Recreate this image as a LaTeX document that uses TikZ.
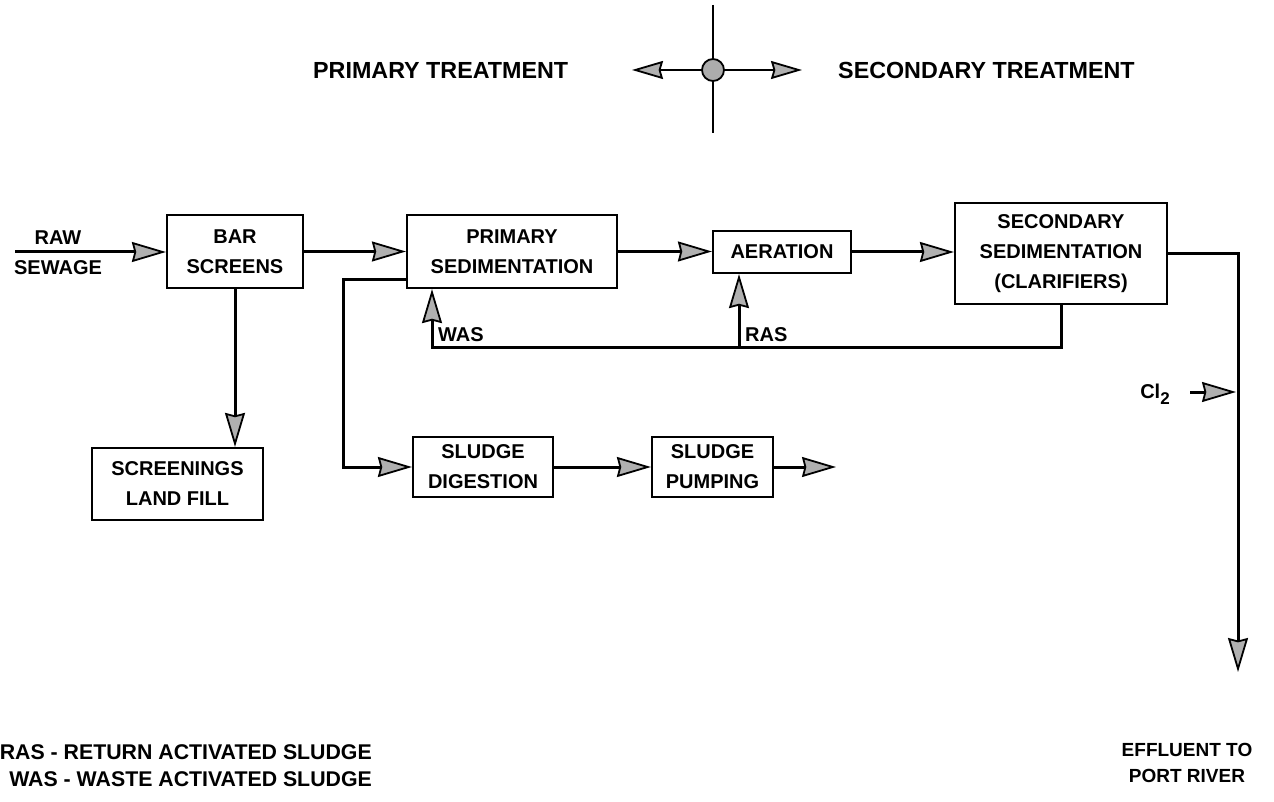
\documentclass[tikz,border=0pt]{standalone}
\usepackage{fontspec}
\setmainfont{Liberation Sans}
\usetikzlibrary{arrows.meta}
\newcommand\boxfont{\fontsize{20}{30}\selectfont\bfseries}
\newcommand\titlefont{\fontsize{23.3}{27}\selectfont\bfseries}
\newcommand\notefont{\fontsize{21.3}{27}\selectfont\bfseries}
\newcommand\outletfont{\fontsize{19}{26}\selectfont\bfseries}
\begin{document}
\begin{tikzpicture}[x=1pt,y=-1pt,
  box/.style={draw, line width=2.2pt, align=center, inner sep=0pt, font=\boxfont},
  lbl/.style={inner sep=0pt, font=\boxfont},
  flow/.style={line width=3pt,
    -{Stealth[length=34pt,width=20pt,inset=2.5pt,line width=1.8pt,fill=gray!62]}},
  pointer/.style={line width=2.4pt,
    -{Stealth[length=31pt,width=18pt,inset=2.5pt,line width=1.8pt,fill=gray!62]}},
]
\useasboundingbox (0,0) rectangle (1274,802);

% headings and the primary/secondary divider
\node[inner sep=0pt, anchor=west, font=\titlefont] (pt) at (313,70) {PRIMARY TREATMENT};
\node[inner sep=0pt, anchor=west, font=\titlefont] (st) at (838,70) {SECONDARY TREATMENT};
\coordinate (hub) at (713,70);
\coordinate (vtop) at (713,5);
\coordinate (vbot) at (713,133);
\coordinate (ltip) at (632,70);
\coordinate (rtip) at (802,70);
\draw[line width=2.2pt] (vtop) -- (vbot);
\draw[pointer] (hub) -- (ltip);
\draw[pointer] (hub) -- (rtip);
\node[circle, draw, line width=1.8pt, fill=gray!65, minimum size=22pt, inner sep=0pt] (dot) at (hub) {};

% process units
\node[box, minimum width=136pt, minimum height=73pt] (bar) at (235,251.5) {BAR\\SCREENS};
\node[box, minimum width=210pt, minimum height=73pt] (prim) at (512,251.5) {PRIMARY\\SEDIMENTATION};
\node[box, minimum width=138pt, minimum height=42pt] (aer) at (782,252) {AERATION};
\node[box, minimum width=212pt, minimum height=101pt] (sec) at (1061,253.5) {SECONDARY\\SEDIMENTATION\\(CLARIFIERS)};
\node[box, minimum width=171pt, minimum height=72pt] (scr) at (177.5,484) {SCREENINGS\\LAND FILL};
\node[box, minimum width=140pt, minimum height=60pt] (dig) at (483,467) {SLUDGE\\DIGESTION};
\node[box, minimum width=121pt, minimum height=60pt] (pump) at (712.5,467) {SLUDGE\\PUMPING};

% inflow
\node[inner sep=0pt, align=center, font=\boxfont] (raw) at (58,253) {RAW\\SEWAGE};
\coordinate (rawin) at (15,252);
\draw[flow] (rawin) -- (rawin -| bar.west);

% main line
\draw[flow] (bar.east) -- (prim.west);
\draw[flow] (prim.east) -- (prim.east -| aer.west);
\draw[flow] (aer.east) -- (aer.east -| sec.west);

% screenings
\draw[flow] (bar.south) -- (bar.south |- scr.north);

% return and waste activated sludge
\coordinate (rl) at (432,347);
\coordinate (rasj) at (739,347);
\draw[flow] (sec.south) |- (rl) -- (rl |- prim.south);
\draw[flow] (rasj) -- (rasj |- aer.south);
\node[lbl, anchor=west] (was) at (438,335) {WAS};
\node[lbl, anchor=west] (ras) at (745,335) {RAS};

% sludge line
\coordinate (sl) at (343,280);
\coordinate (sout) at (836,467);
\draw[flow] (prim.west |- sl) -- (sl) |- (dig.west);
\draw[flow] (dig.east) -- (pump.west);
\draw[flow] (pump.east) -- (sout);

% effluent and chlorination
\coordinate (ec) at (1238,253.5);
\coordinate (eout) at (1238,672);
\draw[flow] (sec.east) -- (ec) -- (eout);
\coordinate (clin) at (1190,392);
\coordinate (clj) at (1236,392);
\draw[flow] (clin) -- (clj);
\node[inner sep=0pt, font=\boxfont] (cl) at (1155,394) {Cl\raisebox{-6pt}{\fontsize{17}{17}\selectfont 2}};

% notes
\node[inner sep=0pt, anchor=east, align=right, font=\notefont] (key) at (372,766)
  {RAS - RETURN ACTIVATED SLUDGE\\WAS - WASTE ACTIVATED SLUDGE};
\node[inner sep=0pt, align=center, font=\outletfont] (eff) at (1187,763)
  {EFFLUENT TO\\PORT RIVER};
\end{tikzpicture}
\end{document}
